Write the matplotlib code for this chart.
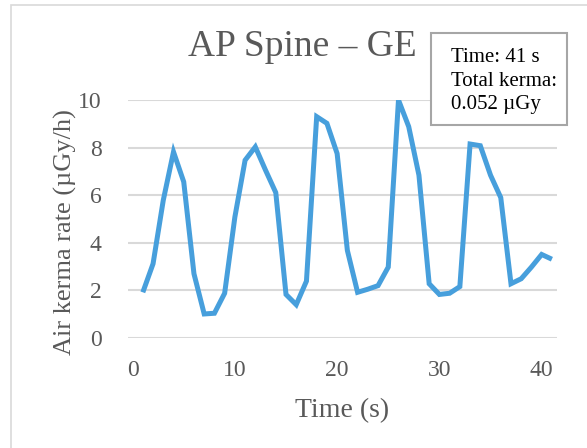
import matplotlib
matplotlib.use('Agg')
import matplotlib.pyplot as plt
from matplotlib.patches import Rectangle

plt.rcParams['font.family'] = ['Liberation Serif', 'DejaVu Serif']

## data
time_s = list(range(1, 42))
kerma_rate = [1.92, 3.12, 5.79, 7.82, 6.56, 2.70, 1.01, 1.04, 1.88, 5.08,
              7.47, 8.03, 7.05, 6.11, 1.83, 1.40, 2.39, 9.30, 9.02, 7.75,
              3.68, 1.92, 2.05, 2.20, 2.98, 10.0, 8.88, 6.84, 2.28, 1.83,
              1.88, 2.16, 8.15, 8.08, 6.84, 5.90, 2.28, 2.49, 2.98, 3.51,
              3.31]
x_ticks = [0, 10, 20, 30, 40]
y_ticks = [0, 2, 4, 6, 8, 10]
info_text = 'Time: 41 s\nTotal kerma:\n0.052 \u00b5Gy'

W, H = 587, 448
fig = plt.figure(figsize=(W / 100, H / 100), dpi=100)

# outer chart border (Excel style)
fig.patches.append(Rectangle((11 / W, -0.1), 1.0, (H - 5) / H + 0.1,
                             transform=fig.transFigure, fill=False,
                             edgecolor='#D9D9D9', linewidth=1.2))

ax = fig.add_axes([128 / W, 1 - 338 / H, (557 - 128) / W, (338 - 100) / H])
ax.plot(time_s, kerma_rate, color='#479FDC', linewidth=3.6,
        solid_joinstyle='miter', solid_capstyle='butt', zorder=3)

ax.set_xlim(-0.45, 41.5)
ax.set_ylim(0, 10)
ax.set_xticks(x_ticks)
ax.set_yticks(y_ticks)
ax.grid(axis='y', color='#D9D9D9', linewidth=1.5)
ax.set_axisbelow(True)
for s in ax.spines.values():
    s.set_visible(False)
ax.tick_params(length=0, labelsize=17, labelcolor='#595959')
ax.tick_params(axis='x', pad=16)
ax.tick_params(axis='y', pad=19)

ax.set_xlabel('Time (s)', fontsize=20, color='#595959', labelpad=12)
ax.set_ylabel('Air kerma rate (\u00b5Gy/h)', fontsize=19, color='#595959')
ax.yaxis.set_label_coords(-0.12, 0.445)

fig.text(302 / W, 1 - 47 / H, 'AP Spine \u2013 GE', fontsize=27,
         color='#595959', ha='center', va='center')

# info box
fig.patches.append(Rectangle((431 / W, 1 - 125 / H), 136 / W, 92 / H,
                             transform=fig.transFigure, facecolor='white',
                             edgecolor='#A6A6A6', linewidth=1.5, zorder=5))
fig.text(451 / W, 1 - 81 / H, info_text, fontsize=15, color='black',
         ha='left', va='center', linespacing=1.3, zorder=6)

fig.savefig('out.png', dpi=100)
